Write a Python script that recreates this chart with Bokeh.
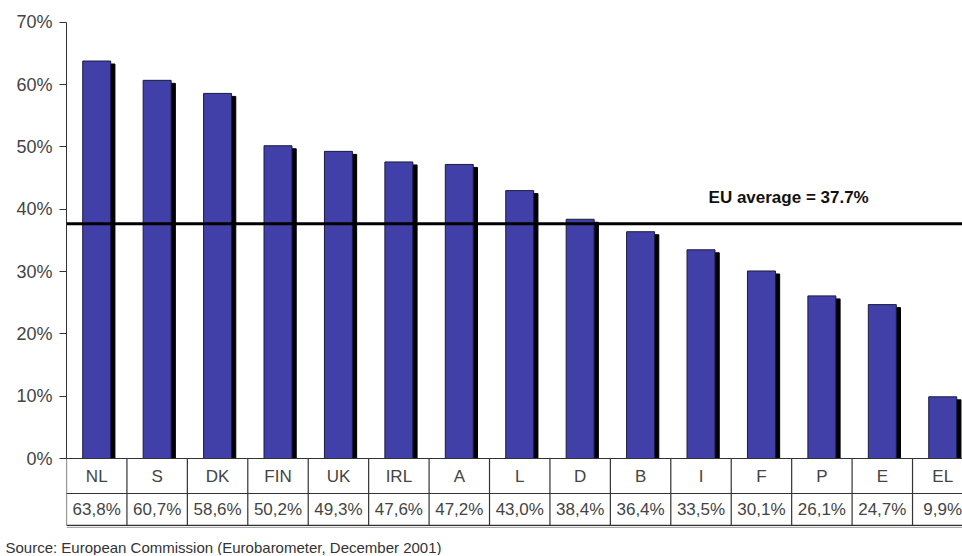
from bokeh.plotting import figure
from bokeh.models import Range1d, FixedTicker, PrintfTickFormatter, Span, Label, Title, ColumnDataSource
from bokeh.core.properties import value
from bokeh.embed import file_html
from bokeh.resources import INLINE

# Share of population per member state, EU survey
countries = ["NL", "S", "DK", "FIN", "UK", "IRL", "A", "L", "D", "B", "I", "F", "P", "E", "EL"]
shares = [63.8, 60.7, 58.6, 50.2, 49.3, 47.6, 47.2, 43.0, 38.4, 36.4, 33.5, 30.1, 26.1, 24.7, 9.9]
eu_average = 37.7
y_ticks = [0, 10, 20, 30, 40, 50, 60, 70]
source_note = "Source:  European Commission (Eurobarometer,  December 2001)"

FONT = "Liberation Sans"
BAR_BLUE = "#4040A8"
INK = "#333333"

n = len(countries)
xs = [i + 0.5 for i in range(n)]
labels = [f"{v:.1f}%".replace(".", ",") for v in shares]

# layout of the table rows beneath the bars (in axis units)
row1_bottom = -5.62
row2_bottom = -10.75
shadow_dx = 0.07
shadow_dy = 0.48

src = ColumnDataSource(dict(
    x=xs,
    xs=[x + shadow_dx for x in xs],
    top=shares,
    stop=[v - shadow_dy for v in shares],
    country=countries,
    label=labels,
))

p = figure(frame_width=896, frame_height=536,
           x_range=Range1d(0, 14.827), y_range=Range1d(-12.52, 73.515),
           output_backend="svg", toolbar_location=None,
           x_axis_location=None, y_axis_location="left",
           min_border_left=66, min_border_right=0,
           min_border_top=0, min_border_bottom=0)
p.outline_line_color = None
p.grid.visible = False
p.background_fill_color = "white"
p.border_fill_color = "white"

ax = p.yaxis[0]
ax.ticker = FixedTicker(ticks=y_ticks)
ax.formatter = PrintfTickFormatter(format="%d%%")
ax.bounds = (0, 70)
ax.axis_line_color = INK
ax.major_tick_line_color = INK
ax.major_tick_out = 7
ax.major_tick_in = 0
ax.minor_tick_out = 0
ax.minor_tick_in = 0
ax.major_label_standoff = 7
ax.major_label_text_font = FONT
ax.major_label_text_font_size = "18px"
ax.major_label_text_color = "#444444"

# drop shadows and bars
p.vbar(x="xs", top="stop", bottom=0, width=0.463, source=src,
       fill_color="black", line_color="black")
p.vbar(x="x", top="top", bottom=0, width=0.463, source=src,
       fill_color=BAR_BLUE, line_color="#1a1a40", line_width=1)

# EU average reference line and its caption
p.add_layout(Span(location=eu_average, dimension="width",
                  line_color="black", line_width=3))
p.add_layout(Label(x=11.95, y=eu_average + 2.7, text=f"EU average = {eu_average}%",
                   text_font=FONT, text_font_size="17px", text_font_style="bold",
                   text_align="center", text_baseline="bottom", text_color="#111111"))

# data table under the bars
edges = list(range(n + 1))
p.segment(x0=edges, y0=[0] * len(edges), x1=edges, y1=[row2_bottom] * len(edges),
          line_color=INK, line_width=1.2)
p.segment(x0=[0, 0, 0], y0=[0, row1_bottom, row2_bottom],
          x1=[n, n, n], y1=[0, row1_bottom, row2_bottom],
          line_color=INK, line_width=1.2)
p.segment(x0=[0], y0=[row2_bottom - 0.3], x1=[n], y1=[row2_bottom - 0.3],
          line_color="#999999", line_width=1)

p.text(x="x", y=row1_bottom / 2, text="country", source=src,
       text_font=value(FONT), text_font_size="17px", text_color="#444444",
       text_align="center", text_baseline="middle")
p.text(x="x", y=(row1_bottom + row2_bottom) / 2 + 0.05, text="label", source=src,
       text_font=value(FONT), text_font_size="17px", text_color="#444444",
       text_align="center", text_baseline="middle")

# source note under the whole chart
p.add_layout(Title(text=source_note, align="left", offset=-61, standoff=0,
                   text_font=FONT, text_font_size="15px", text_font_style="normal",
                   text_color="#333333"), "below")

open("out.html", "w").write(file_html(p, INLINE))
